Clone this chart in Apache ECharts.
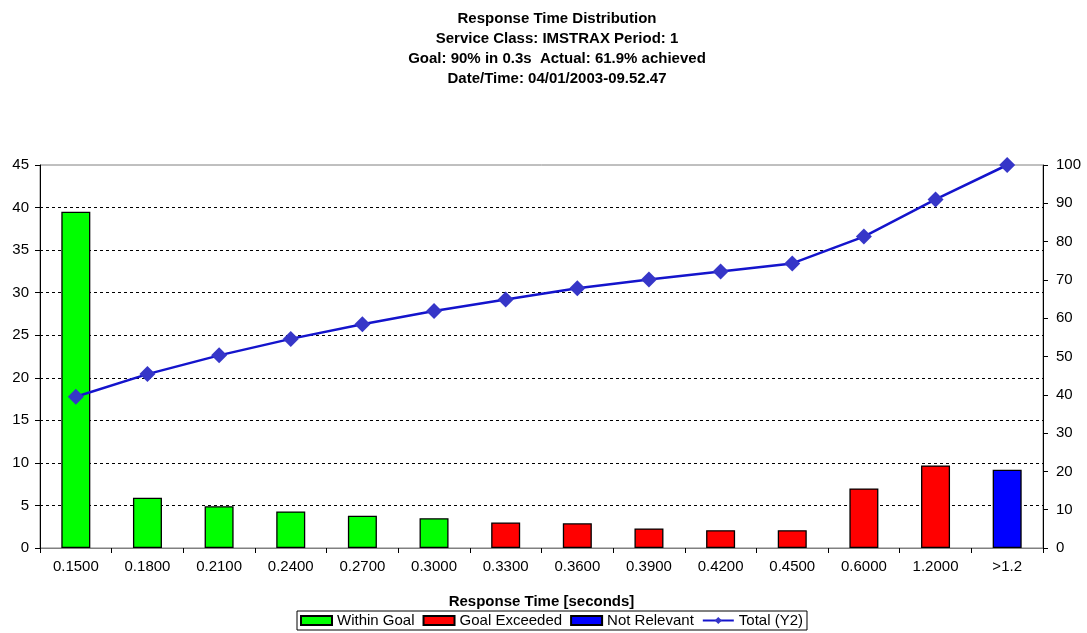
<!DOCTYPE html>
<html>
<head>
<meta charset="utf-8">
<script src="https://cdn.jsdelivr.net/npm/echarts@6/dist/echarts.min.js"></script>
<style>
  html, body { margin: 0; padding: 0; background: #fff; }
  #chart { width: 1087px; height: 633px; }
</style>
</head>
<body>
<div id="chart"></div>
<script>
// Response time buckets (seconds)
const categories = ['0.1500', '0.1800', '0.2100', '0.2400', '0.2700', '0.3000', '0.3300',
  '0.3600', '0.3900', '0.4200', '0.4500', '0.6000', '1.2000', '>1.2'];

// Percentage of transactions per bucket, split by goal status
const withinGoal   = [39.5, 5.9, 4.9, 4.3, 3.8, 3.5, null, null, null, null, null, null, null, null];
const goalExceeded = [null, null, null, null, null, null, 3.0, 2.9, 2.3, 2.1, 2.1, 7.0, 9.7, null];
const notRelevant  = [null, null, null, null, null, null, null, null, null, null, null, null, null, 9.2];

// Cumulative percentage (right axis)
const totalY2 = [39.5, 45.4, 50.3, 54.6, 58.4, 61.9, 64.9, 67.8, 70.1, 72.2, 74.3, 81.3, 91.0, 100];

const titleLines = [
  'Response Time Distribution',
  'Service Class: IMSTRAX Period: 1',
  'Goal: 90% in 0.3s  Actual: 61.9% achieved',
  'Date/Time: 04/01/2003-09.52.47'
];

const FONT = '"Liberation Sans", Arial, sans-serif';

const barStyle = (color) => ({
  color: color,
  borderColor: '#000',
  borderWidth: 1.3
});

const chart = echarts.init(document.getElementById('chart'), null, { renderer: 'canvas' });

chart.setOption({
  animation: false,
  backgroundColor: '#fff',
  textStyle: { fontFamily: FONT, color: '#000' },
  title: {
    text: titleLines.join('\n'),
    left: 552,
    top: 4,
    textAlign: 'center',
    textStyle: {
      fontFamily: FONT,
      fontSize: 15,
      fontWeight: 'bold',
      color: '#000',
      lineHeight: 20
    }
  },
  legend: {
    left: 297,
    top: 611,
    itemWidth: 31,
    itemHeight: 9,
    itemGap: 8,
    padding: [2, 4, 2, 3],
    borderColor: '#000',
    borderWidth: 1,
    textStyle: { fontFamily: FONT, fontSize: 15, color: '#000' },
    data: [
      { name: 'Within Goal', icon: 'rect' },
      { name: 'Goal Exceeded', icon: 'rect' },
      { name: 'Not Relevant', icon: 'rect' },
      { name: 'Total (Y2)' }
    ]
  },
  grid: {
    left: 40,
    right: 44,
    top: 165,
    bottom: 85,
    show: true,
    borderColor: '#808080',
    borderWidth: 1,
    backgroundColor: 'transparent'
  },
  xAxis: {
    type: 'category',
    data: categories,
    boundaryGap: true,
    name: 'Response Time [seconds]',
    nameLocation: 'middle',
    nameGap: 46,
    nameTextStyle: { fontFamily: FONT, fontSize: 15, fontWeight: 'bold', color: '#000' },
    axisLine: { lineStyle: { color: '#808080', width: 1 } },
    axisTick: { show: true, alignWithLabel: false, length: 5, lineStyle: { color: '#000' } },
    axisLabel: { fontFamily: FONT, fontSize: 15, color: '#000', margin: 11, interval: 0 }
  },
  yAxis: [
    {
      type: 'value',
      min: 0,
      max: 45,
      interval: 5,
      position: 'left',
      axisLine: { show: true, lineStyle: { color: '#000', width: 1 } },
      axisTick: { show: true, length: 5, lineStyle: { color: '#000' } },
      axisLabel: { fontFamily: FONT, fontSize: 15, color: '#000', margin: 11 },
      splitLine: {
        show: true,
        showMinLine: false,
        showMaxLine: false,
        lineStyle: { color: '#000', type: [3, 3], width: 1 }
      }
    },
    {
      type: 'value',
      min: 0,
      max: 100,
      interval: 10,
      position: 'right',
      axisLine: { show: true, lineStyle: { color: '#000', width: 1 } },
      axisTick: { show: true, length: 5, lineStyle: { color: '#000' } },
      axisLabel: { fontFamily: FONT, fontSize: 15, color: '#000', margin: 13 },
      splitLine: { show: false }
    }
  ],
  series: [
    {
      name: 'Within Goal',
      type: 'bar',
      stack: 'pct',
      data: withinGoal,
      barWidth: 29,
      itemStyle: barStyle('#00FF00')
    },
    {
      name: 'Goal Exceeded',
      type: 'bar',
      stack: 'pct',
      data: goalExceeded,
      barWidth: 29,
      itemStyle: barStyle('#FF0000')
    },
    {
      name: 'Not Relevant',
      type: 'bar',
      stack: 'pct',
      data: notRelevant,
      barWidth: 29,
      itemStyle: barStyle('#0000FF')
    },
    {
      name: 'Total (Y2)',
      type: 'line',
      yAxisIndex: 1,
      data: totalY2,
      symbol: 'diamond',
      symbolSize: 16,
      lineStyle: { color: '#1414CC', width: 2.5 },
      itemStyle: { color: '#3636C8' },
      z: 5
    }
  ]
});
</script>
</body>
</html>
